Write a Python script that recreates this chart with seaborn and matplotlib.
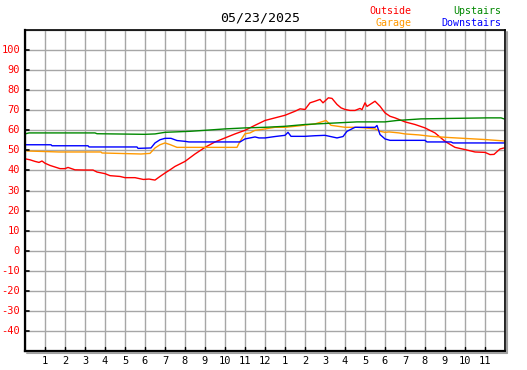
import matplotlib
matplotlib.use("Agg")
import matplotlib.pyplot as plt
from matplotlib.lines import Line2D
import seaborn as sns
import pandas as pd

# --- dados (hora do dia, temperatura) ---
TITULO = "05/23/2025"

outside_h = [0, 0.25, 0.5, 0.7, 0.85, 1, 1.25, 1.5, 1.75, 2, 2.15, 2.5, 3, 3.4, 3.6, 4, 4.25,
             4.75, 5, 5.5, 5.92, 6.2, 6.5, 6.75, 7, 7.25, 7.5, 8, 8.5, 9, 9.5, 10, 10.5, 11,
             11.5, 12, 12.5, 13, 13.5, 13.75, 14, 14.25, 14.5, 14.75, 14.9, 15.17, 15.35,
             15.6, 15.8, 16, 16.25, 16.5, 16.75, 16.85, 17, 17.1, 17.5, 17.75, 18, 18.25,
             18.5, 19, 19.5, 20, 20.5, 21, 21.5, 22, 22.5, 23, 23.25, 23.45, 23.75, 23.95]
outside_v = [45.8, 45.3, 44.5, 44.0, 44.7, 43.6, 42.5, 41.7, 40.9, 40.9, 41.5, 40.3, 40.2, 40.2,
             39.2, 38.4, 37.4, 37.0, 36.4, 36.4, 35.5, 35.7, 35.2, 37.0, 38.7, 40.3, 42.0,
             44.5, 48.2, 51.5, 54.2, 56.2, 58.2, 60.0, 62.5, 64.9, 66.2, 67.5, 69.5, 70.7,
             70.4, 73.7, 74.5, 75.4, 73.7, 76.2, 75.9, 72.9, 71.2, 70.4, 69.9, 69.9, 70.9,
             70.3, 73.7, 71.9, 74.5, 72.0, 68.7, 67.0, 66.2, 64.2, 62.9, 61.2, 58.7, 54.5,
             51.5, 50.4, 49.2, 49.0, 47.9, 48.0, 50.7, 51.2]

garage_h = [0, 0.1, 1.7, 3.8, 3.85, 5.8, 6.25, 6.5, 6.75, 7, 7.25, 7.6, 8, 10.6, 10.75, 11,
            11.25, 11.5, 11.75, 12, 12.5, 13, 13.5, 14.5, 15.05, 15.3, 16, 16.6, 17, 17.5,
            17.75, 18, 18.2, 18.7, 19, 19.7, 20.3, 21.2, 22.1, 23, 23.95]
garage_v = [50.3, 49.7, 49.2, 49.2, 48.7, 48.2, 48.5, 51.2, 52.8, 53.7, 52.9, 51.5, 51.5, 51.5,
            54.5, 58.3, 58.7, 60.0, 60.3, 60.7, 61.5, 61.5, 62.0, 63.2, 64.9, 62.5, 61.5,
            61.5, 61.2, 60.7, 59.5, 59.0, 59.2, 58.7, 58.2, 57.7, 57.0, 56.4, 55.9, 55.4,
            54.7]

upstairs_h = [0, 0.2, 3.5, 3.6, 6.0, 6.5, 7, 8.25, 9, 10, 11, 12, 13, 14, 15, 16.6, 18,
              18.6, 19.8, 23.1, 23.8, 23.95]
upstairs_v = [58.2, 58.7, 58.7, 58.3, 58.0, 58.2, 59.0, 59.5, 60.0, 60.7, 61.2, 61.5, 62.0,
              62.9, 63.4, 64.2, 64.2, 64.9, 65.7, 66.2, 66.2, 65.7]

downstairs_h = [0, 1.3, 1.35, 3.15, 3.2, 5.6, 5.65, 6.3, 6.5, 6.75, 7, 7.3, 7.6, 8, 8.2,
                10.75, 11, 11.5, 11.7, 12, 12.5, 13, 13.15, 13.3, 14, 14.5, 15, 15.6, 15.9,
                16.1, 16.5, 17, 17.5, 17.6, 17.75, 18, 18.25, 18.5, 20, 20.1, 21.3, 21.4,
                23.95]
downstairs_v = [52.8, 52.8, 52.3, 52.3, 51.7, 51.7, 51.0, 51.2, 53.7, 55.3, 56.0, 56.0, 54.9,
                54.5, 54.2, 54.2, 55.7, 56.7, 56.2, 56.2, 56.9, 57.5, 59.0, 57.0, 57.0, 57.3,
                57.5, 56.2, 56.9, 59.5, 61.5, 61.5, 61.5, 62.4, 57.9, 55.7, 55.0, 55.0, 55.0,
                54.2, 54.2, 53.7, 53.7]

hora_labels = [str(h) for h in range(1, 12)] + ["12"] + [str(h) for h in range(1, 12)]
y_ticks = list(range(-40, 101, 10))

series = [("Outside", outside_h, outside_v, "#ff0000"),
          ("Garage", garage_h, garage_v, "#ff9900"),
          ("Upstairs", upstairs_h, upstairs_v, "#008800"),
          ("Downstairs", downstairs_h, downstairs_v, "#0000ff")]

frames = []
for nome, hs, vs, _ in series:
    frames.append(pd.DataFrame({"hora": hs, "temp": vs, "sensor": nome}))
df = pd.concat(frames, ignore_index=True)

# --- grafico ---
sns.set_theme(style="white")
plt.rcParams["font.family"] = ["DejaVu Sans Mono", "DejaVu Sans"]

fig = plt.figure(figsize=(5.27, 3.70), dpi=100)
ax = fig.add_axes([25 / 527, (370 - 351) / 370, 480 / 527, 321 / 370])

paleta = {nome: cor for nome, _, _, cor in series}
sns.lineplot(data=df, x="hora", y="temp", hue="sensor", palette=paleta, linewidth=1.0,
             ax=ax, legend=False, sort=False, estimator=None)

ax.set_xlim(0, 24)
ax.set_ylim(-50, 110)
ax.set_xticks(range(0, 25))
ax.set_yticks(range(-50, 111, 10))
ax.grid(True, color="#a6a6a6", linewidth=1.0)
ax.set_axisbelow(True)
ax.set_xticklabels([])
ax.set_yticklabels([])
ax.tick_params(axis="both", length=0)
ax.set_xlabel("")
ax.set_ylabel("")

for lado in ["left", "bottom"]:
    ax.spines[lado].set_color("black")
    ax.spines[lado].set_linewidth(1.6)
for lado in ["top", "right"]:
    ax.spines[lado].set_color("black")
    ax.spines[lado].set_linewidth(1.2)

# marcas internas das horas e das temperaturas
for i, lab in enumerate(hora_labels):
    h = i + 1
    ax.plot([h, h], [-50, -48], color="black", linewidth=1.0, clip_on=False)
    ax.text(h, -52.5, lab, ha="center", va="top", fontsize=7.5, color="black")
for v in y_ticks:
    ax.plot([0, 0.22], [v, v], color="black", linewidth=1.2, clip_on=False)
    ax.text(-0.25, v, str(v), ha="right", va="center", fontsize=7.5, color="#ff0000")

# sombra cinza na borda inferior e direita
fig.add_artist(Line2D([27 / 527, 507 / 527], [1 - 352.5 / 370, 1 - 352.5 / 370],
                      color="#a0a0a0", linewidth=1.5))
fig.add_artist(Line2D([506.5 / 527, 506.5 / 527], [1 - 32 / 370, 1 - 352.5 / 370],
                      color="#a0a0a0", linewidth=1.5))

fig.text(260 / 527, 1 - 18 / 370, TITULO, ha="center", va="center", fontsize=9.5, color="black")
fig.text(411 / 527, 1 - 11 / 370, "Outside", ha="right", va="center", fontsize=7.2, color="#ff0000")
fig.text(411 / 527, 1 - 23 / 370, "Garage", ha="right", va="center", fontsize=7.2, color="#ff9900")
fig.text(501 / 527, 1 - 11 / 370, "Upstairs", ha="right", va="center", fontsize=7.2, color="#008800")
fig.text(501 / 527, 1 - 23 / 370, "Downstairs", ha="right", va="center", fontsize=7.2, color="#0000ff")

fig.savefig("out.png", dpi=100, facecolor="white")
